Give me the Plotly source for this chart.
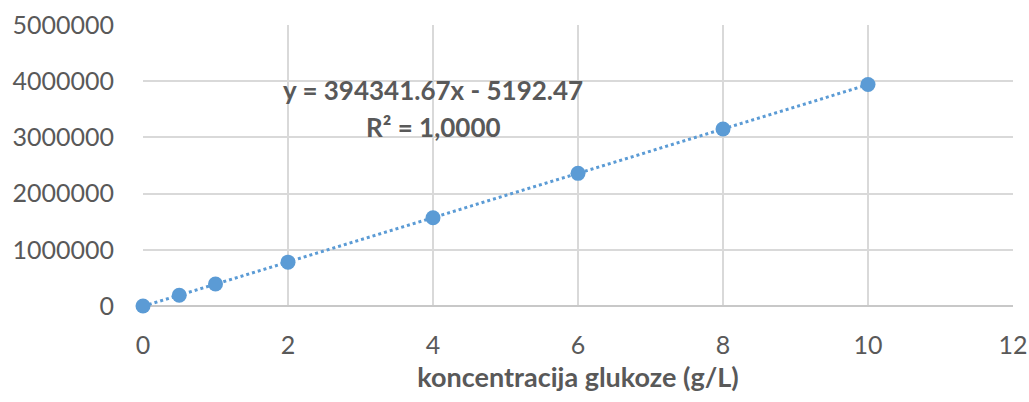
import numpy as np
import plotly.graph_objects as go

# glukoza kalibracija
konc = [0, 0.5, 1, 2, 4, 6, 8, 10]
povrsina = [0, 190000, 392000, 780000, 1570000, 2360000, 3150000, 3940000]

slope = 394341.67
intercept = -5192.47
r2_text = "1,0000"

x_ticks = [0, 2, 4, 6, 8, 10, 12]
y_ticks = [0, 1000000, 2000000, 3000000, 4000000, 5000000]

text_col = '#595959'
grid_col = '#d9d9d9'
blue = '#5b9bd5'
font_fam = 'Lato, "Open Sans", sans-serif'

fig = go.Figure()

trend_x = np.array([konc[0], konc[-1]])
fig.add_trace(go.Scatter(x=trend_x, y=slope * trend_x + intercept, mode='lines',
                         line=dict(color=blue, width=3, dash='dot'),
                         showlegend=False, hoverinfo='skip', cliponaxis=False))
fig.add_trace(go.Scatter(x=konc, y=povrsina, mode='markers',
                         marker=dict(color=blue, size=15),
                         showlegend=False, cliponaxis=False))

fig.add_annotation(x=4.0, y=3840000, xref='x', yref='y',
                   text='<b>y = ' + f'{slope:.2f}' + 'x - ' + f'{abs(intercept):.2f}' + '</b>',
                   showarrow=False, font=dict(family=font_fam, size=26, color=text_col))
fig.add_annotation(x=4.0, y=3180000, xref='x', yref='y',
                   text='<b>R² = ' + r2_text + '</b>',
                   showarrow=False, font=dict(family=font_fam, size=26, color=text_col))

fig.update_xaxes(range=[0, 12], tickvals=x_ticks, showgrid=True, gridcolor=grid_col, gridwidth=2,
                 zeroline=False, showline=False, ticks='', ticklabelstandoff=22, automargin=False,
                 tickfont=dict(family=font_fam, size=25, color=text_col),
                 title=dict(text='<b>koncentracija glukoze (g/L)</b>', standoff=10,
                            font=dict(family=font_fam, size=27, color=text_col)))
fig.update_yaxes(range=[0, 5000000], tickvals=y_ticks, tickformat='d', showgrid=True,
                 gridcolor=grid_col, gridwidth=2, zeroline=True, zerolinecolor='#c8c8c8',
                 zerolinewidth=2, showline=False, ticks='', ticklabelstandoff=28, automargin=False,
                 tickfont=dict(family=font_fam, size=25, color=text_col))

fig.update_layout(width=1029, height=402, plot_bgcolor='white', paper_bgcolor='white',
                  margin=dict(l=143, r=16, t=25, b=96))

# drop the default 8px body margin so the figure fills the window exactly
fig.write_html("out.html", config={'displayModeBar': False},
               post_script="document.body.style.margin='0';")
